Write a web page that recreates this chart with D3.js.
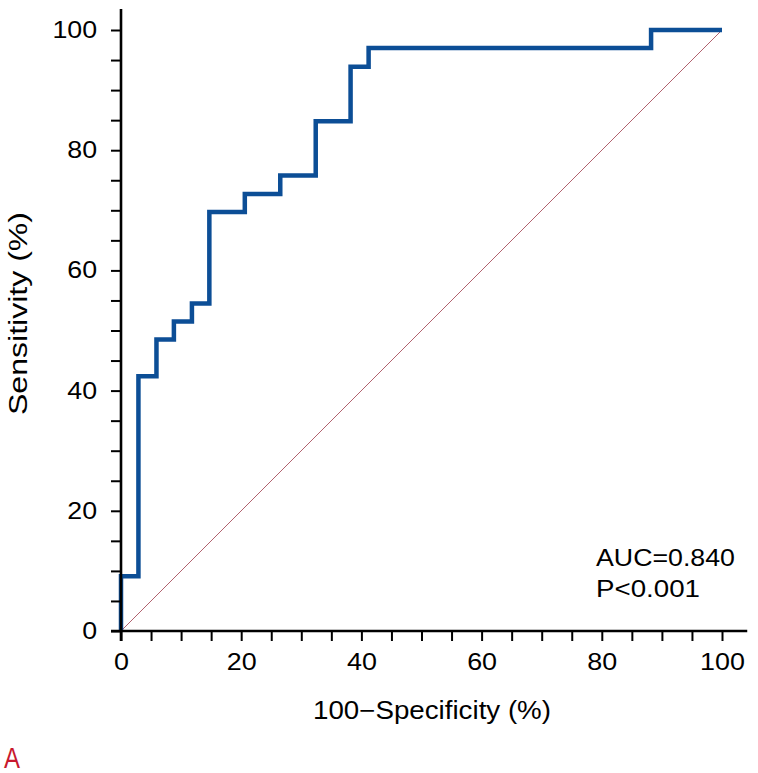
<!DOCTYPE html>
<html>
<head>
<meta charset="utf-8">
<script src="https://cdn.jsdelivr.net/npm/d3@7"></script>
<style>
  html, body { margin: 0; padding: 0; background: #fff; }
  svg text { font-family: "Liberation Sans", Arial, Helvetica, sans-serif; }
</style>
</head>
<body>
<svg id="chart" width="758" height="773"></svg>
<script>
// ROC curve corner points (100-Specificity %, Sensitivity %)
const fpr = [0, 2.9, 5.9, 8.8, 11.8, 14.7, 20.6, 26.5, 32.4, 38.2, 41.2, 88.2, 100];
const tpr = [0, 9.1, 42.4, 48.5, 51.5, 54.5, 69.7, 72.7, 75.8, 84.8, 93.9, 97.0, 100];
const xTicks = [0, 5, 10, 15, 20, 25, 30, 35, 40, 45, 50, 55, 60, 65, 70, 75, 80, 85, 90, 95, 100];
const yTicks = [0, 5, 10, 15, 20, 25, 30, 35, 40, 45, 50, 55, 60, 65, 70, 75, 80, 85, 90, 95, 100];
const xLabelValues = [0, 20, 40, 60, 80, 100];
const yLabelValues = [0, 20, 40, 60, 80, 100];
const xTitle = "100\u2212Specificity (%)";
const yTitle = "Sensitivity (%)";
const statLines = ["AUC=0.840", "P<0.001"];
const panelLabel = "A";

const svg = d3.select("#chart");
const x = d3.scaleLinear().domain([0, 100]).range([121, 722]);
const y = d3.scaleLinear().domain([0, 100]).range([631, 30]);

// reference diagonal
svg.append("line")
  .attr("x1", x(0)).attr("y1", y(0))
  .attr("x2", x(100)).attr("y2", y(100))
  .attr("stroke", "#a8505e").attr("stroke-width", 0.9);

// ROC curve
const pts = fpr.map((v, i) => [v, tpr[i]]);
const line = d3.line().x(d => x(d[0])).y(d => y(d[1])).curve(d3.curveStepBefore);
svg.append("path")
  .attr("d", line(pts))
  .attr("fill", "none")
  .attr("stroke", "#0c4e96")
  .attr("stroke-width", 4.5)
  .attr("stroke-linejoin", "miter")
  .attr("stroke-linecap", "butt");

// x axis
const xAxis = d3.axisBottom(x).tickValues(xTicks).tickSize(10).tickPadding(12)
  .tickFormat(d => xLabelValues.includes(d) ? d : "");
const gx = svg.append("g").attr("transform", `translate(0,${y(0)})`).call(xAxis);
gx.select(".domain").remove();
gx.selectAll(".tick line").attr("stroke", "#000").attr("stroke-width", 2);
gx.selectAll(".tick text").attr("font-size", 24).attr("fill", "#000")
  .attr("font-family", "Liberation Sans, Arial, sans-serif")
  .attr("transform", "scale(1.12,1)");
gx.append("line").attr("x1", x(0) - 10).attr("x2", x(104.2)).attr("y1", 0).attr("y2", 0)
  .attr("stroke", "#000").attr("stroke-width", 2.6);

// y axis
const yAxis = d3.axisLeft(y).tickValues(yTicks).tickSize(10).tickPadding(11)
  .tickFormat(d => yLabelValues.includes(d) ? d : "");
const gy = svg.append("g").attr("transform", `translate(${x(0)},0)`).call(yAxis);
gy.select(".domain").remove();
gy.selectAll(".tick line").attr("stroke", "#000").attr("stroke-width", 2);
gy.selectAll(".tick text").attr("font-size", 23.5).attr("fill", "#000")
  .attr("font-family", "Liberation Sans, Arial, sans-serif")
  .attr("transform", "scale(1.14,1)");
gy.append("line").attr("x1", 0).attr("x2", 0).attr("y1", y(0) + 10).attr("y2", y(103.5))
  .attr("stroke", "#000").attr("stroke-width", 2.6);

// axis titles
svg.append("text")
  .attr("x", 313).attr("y", 719)
  .attr("font-size", 25)
  .attr("textLength", 238).attr("lengthAdjust", "spacingAndGlyphs")
  .text(xTitle);

svg.append("text")
  .attr("transform", "translate(27,415) rotate(-90)")
  .attr("font-size", 25)
  .attr("textLength", 203).attr("lengthAdjust", "spacingAndGlyphs")
  .text(yTitle);

// stats
svg.selectAll("text.stat").data(statLines).enter().append("text")
  .attr("class", "stat")
  .attr("x", 596)
  .attr("y", (d, i) => 566 + i * 31)
  .attr("font-size", 23.5)
  .attr("textLength", (d, i) => i === 0 ? 139 : 104)
  .attr("lengthAdjust", "spacingAndGlyphs")
  .text(d => d);

// panel label
svg.append("text")
  .attr("x", 4).attr("y", 768)
  .attr("font-size", 29)
  .attr("fill", "#c8192e")
  .attr("textLength", 16).attr("lengthAdjust", "spacingAndGlyphs")
  .text(panelLabel);
</script>
</body>
</html>
